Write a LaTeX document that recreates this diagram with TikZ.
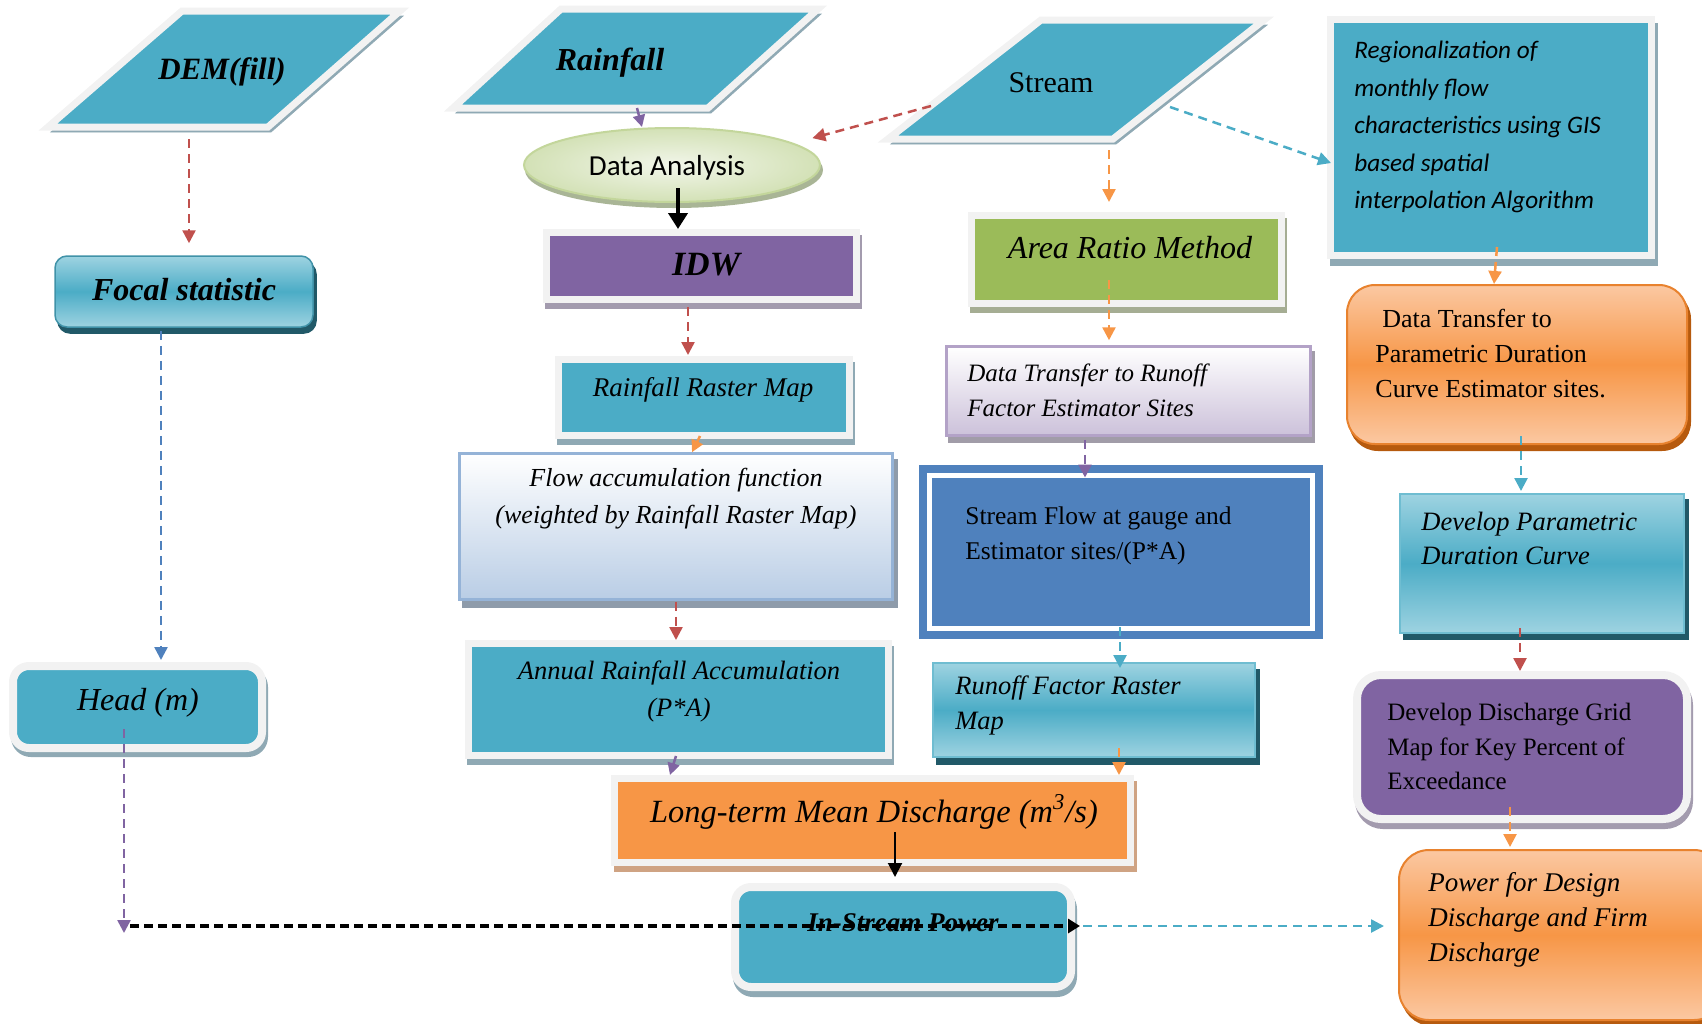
\documentclass[tikz,border=0pt]{standalone}
\usepackage{fontspec}
\setmainfont{Liberation Serif}
\newfontfamily\calfont{Carlito}
\usetikzlibrary{arrows.meta,shapes.geometric}
\newlength\pxu
\setlength\pxu{0.5pt}
\newcommand\fsz[2]{\fontsize{#1}{#2}\selectfont}
\definecolor{cTeal}{HTML}{4BACC6}
\definecolor{cTealL}{HTML}{9ED3E1}
\definecolor{cTealD}{HTML}{215968}
\definecolor{cFrame}{HTML}{F2F2F2}
\definecolor{cShTeal}{HTML}{8FA9B4}
\definecolor{cPurple}{HTML}{8064A2}
\definecolor{cShPurple}{HTML}{A39BAE}
\definecolor{cGreen}{HTML}{9BBB59}
\definecolor{cShGreen}{HTML}{A5AD93}
\definecolor{cOrange}{HTML}{F79646}
\definecolor{cOrangeL}{HTML}{FBC8A2}
\definecolor{cOrangeB}{HTML}{E8822E}
\definecolor{cOrangeD}{HTML}{B65A0E}
\definecolor{cShTan}{HTML}{CFA383}
\definecolor{cBlue}{HTML}{4F81BD}
\definecolor{cRed}{HTML}{C0504D}
\definecolor{cFlowB}{HTML}{B9CDE5}
\definecolor{cFlowBorder}{HTML}{95B3D7}
\definecolor{cLav}{HTML}{CCC1DA}
\definecolor{cLavBorder}{HTML}{B3A2C7}
\definecolor{cShGray}{HTML}{A19CA8}
\definecolor{cShFlow}{HTML}{8E9BAA}
\definecolor{cDAin}{HTML}{F2F6EA}
\definecolor{cDAout}{HTML}{D3E1B6}
\definecolor{cDAborder}{HTML}{C3D69B}
\definecolor{cShDA}{HTML}{A9B596}
\tikzset{
  frm/.style={draw=cFrame, line width=7\pxu, inner sep=0pt},
  bsh/.style n args={3}{preaction={draw=#1, fill=#1, transform canvas={xshift=#2\pxu, yshift=-#3\pxu}}},
  tx/.style={inner sep=0pt},
  tgrad/.style={top color=cTealL, bottom color=cTealL, middle color=cTeal},
  ograd/.style={top color=cOrangeL, bottom color=cOrangeL, middle color=cOrange},
  cn/.style={draw=#1, line width=2.5\pxu, dash pattern=on 4.5pt off 3pt, -{Triangle[length=6.5pt,width=6.5pt]}},
  cs/.style={draw=#1, line width=2.5\pxu, -{Triangle[length=6pt,width=6pt]}},
}
\begin{document}
\begin{tikzpicture}[x=0.5pt, y=-0.5pt]
\useasboundingbox (0,0) rectangle (1702,1023);

% ---------- parallelograms ----------
\draw[frm, fill=cTeal, bsh={cShTeal}{3}{5}] (182,11) -- (400,11) -- (268,127) -- (48,127) -- cycle;
\draw[frm, fill=cTeal, bsh={cShTeal}{3}{5}] (561,9) -- (818,9) -- (708,108) -- (453,108) -- cycle;
\draw[frm, fill=cTeal, bsh={cShTeal}{3}{5}] (1041,20) -- (1264,20) -- (1113,139) -- (888,139) -- cycle;
\coordinate (demB) at (189,139);
\coordinate (rainB) at (637,108);
\coordinate (streamL) at (931,106);
\coordinate (streamB) at (1109,150);
\coordinate (streamR) at (1170,107);
\coordinate (junc) at (130,926);

% ---------- boxes ----------
\node[ellipse, draw=cDAborder, line width=2\pxu, inner color=cDAin, outer color=cDAout, bsh={cShDA}{2}{5}, minimum width=296\pxu, minimum height=74\pxu, inner sep=0pt] (da) at (672,165) {};
\node[frm, fill=cPurple, bsh={cShPurple}{2}{6}, minimum width=310\pxu, minimum height=67\pxu] (idw) at (701.5,266) {};
\node[frm, fill=cTeal, bsh={cShTeal}{2}{6}, minimum width=291\pxu, minimum height=76\pxu] (rrm) at (704,397.5) {};
\node[frm, fill=cGreen, bsh={cShGreen}{2}{6}, minimum width=310\pxu, minimum height=88\pxu] (area) at (1126.5,259.5) {};
\node[frm, fill=cTeal, bsh={cShTeal}{3}{7}, minimum width=321\pxu, minimum height=236\pxu] (regional) at (1491,137.5) {};
\node[frm, fill=cTeal, bsh={cShTeal}{2}{6}, minimum width=420\pxu, minimum height=112\pxu] (annual) at (678.5,699.5) {};
\node[frm, fill=cOrange, bsh={cShTan}{3}{6}, minimum width=516\pxu, minimum height=84\pxu] (longterm) at (872.5,820.5) {};
\node[draw=cTeal!85!black, line width=1.5\pxu, tgrad, rounded corners=12\pxu, bsh={cTealD}{3}{6}, minimum width=258\pxu, minimum height=71\pxu, inner sep=0pt] (focal) at (184,291.5) {};
\node[frm, line width=8\pxu, fill=cTeal, rounded corners=16\pxu, bsh={cShTeal}{2}{5}, minimum width=249\pxu, minimum height=82\pxu] (head) at (137.5,707) {};
\node[frm, line width=8\pxu, fill=cTeal, rounded corners=16\pxu, bsh={cShTeal}{2}{6}, minimum width=336\pxu, minimum height=100\pxu] (instream) at (903,937) {};
\node[frm, line width=8\pxu, fill=cPurple, rounded corners=24\pxu, bsh={cShPurple}{2}{6}, minimum width=330\pxu, minimum height=144\pxu] (devdisch) at (1522,747) {};
\node[draw=cOrangeB, line width=2\pxu, ograd, rounded corners=28\pxu, bsh={cOrangeD}{3}{6}, minimum width=340\pxu, minimum height=159\pxu, inner sep=0pt] (dtparam) at (1517,364.5) {};
\begin{scope}
\clip (0,0) rectangle (1702,1023);
\node[draw=cOrangeB, line width=2\pxu, ograd, rounded corners=30\pxu, bsh={cOrangeD}{3}{5}, minimum width=325\pxu, minimum height=170\pxu, inner sep=0pt] (power) at (1561.5,935) {};
\end{scope}
\node[draw=cFlowBorder, line width=2.5\pxu, top color=white, bottom color=cFlowB, bsh={cShFlow}{4}{7}, minimum width=433\pxu, minimum height=146\pxu, inner sep=0pt] (flow) at (676,526.5) {};
\node[draw=cLavBorder, line width=2.5\pxu, top color=white, bottom color=cLav, bsh={cShGray}{3}{6}, minimum width=364\pxu, minimum height=89\pxu, inner sep=0pt] (dtrunoff) at (1128.5,391) {};
\node[draw=cBlue, double=white, double distance=5\pxu, line width=8\pxu, fill=cBlue, minimum width=383\pxu, minimum height=153\pxu, inner sep=0pt] (streamflow) at (1121,552) {};
\node[draw=cTeal!80!white, line width=2\pxu, tgrad, bsh={cTealD}{4}{7}, minimum width=322\pxu, minimum height=94\pxu, inner sep=0pt] (runoff) at (1094,710) {};
\node[draw=cTeal!80!white, line width=2\pxu, tgrad, bsh={cTealD}{4}{6}, minimum width=284\pxu, minimum height=139\pxu, inner sep=0pt] (devparam) at (1542,563.5) {};

% ---------- texts ----------
\node[tx, font=\fsz{15.5pt}{18pt}\bfseries\itshape] (demT) at (222,72) {DEM(fill)};
\node[tx, font=\fsz{16pt}{18pt}\bfseries\itshape] (rainT) at (610,63) {Rainfall};
\node[tx, font=\fsz{15pt}{18pt}] (streamT) at (1051,83) {Stream};
\node[tx, font=\calfont\fsz{14.5pt}{18pt}] (daT) at (667,168) {Data Analysis};
\node[tx, font=\fsz{17pt}{18pt}\bfseries\itshape] (idwT) at (706,265) {IDW};
\node[tx, font=\fsz{16pt}{18pt}\bfseries\itshape] (focalT) at (184,290) {Focal statistic};
\node[tx, font=\fsz{16pt}{18pt}\itshape] (areaT) at (1130,248) {Area Ratio Method};
\node[tx, anchor=west, align=left, font=\calfont\itshape\fsz{12.6pt}{18.75pt}] (regT) at (1354,127) {Regionalization of\\monthly flow\\characteristics using GIS\\based spatial\\interpolation Algorithm};
\node[tx, anchor=west, align=left, font=\fsz{13pt}{17.5pt}] (dtpT) at (1375,354) {\hspace*{3.5pt}Data Transfer to\\Parametric Duration\\Curve Estimator sites.};
\node[tx, font=\fsz{13.5pt}{18pt}\itshape] (rrmT) at (703,390) {Rainfall Raster Map};
\node[tx, align=center, font=\fsz{13pt}{18.5pt}\itshape] (flowT) at (676,498.5) {Flow accumulation function\\(weighted by Rainfall Raster Map)};
\node[tx, anchor=west, align=left, font=\fsz{12.5pt}{17.5pt}\itshape] (dtrT) at (967,390.5) {Data Transfer to Runoff\\Factor Estimator Sites};
\node[tx, anchor=west, align=left, font=\fsz{12.75pt}{17.5pt}] (sfT) at (965,535.5) {Stream Flow at gauge and\\Estimator sites/(P*A)};
\node[tx, align=center, font=\fsz{13.25pt}{18.5pt}\itshape] (annT) at (679,691.5) {Annual Rainfall Accumulation\\(P*A)};
\node[tx, anchor=west, align=left, font=\fsz{13.25pt}{17.5pt}\itshape] (rofT) at (955,705.5) {Runoff Factor Raster\\Map};
\node[tx, font=\fsz{16pt}{18pt}\itshape] (headT) at (138,703) {Head (m)};
\node[tx, font=\fsz{16.2pt}{20pt}\itshape] (ltT) at (874,812) {Long-term Mean Discharge (m\textsuperscript{3}/s)};
\node[tx, font=\fsz{13.5pt}{16pt}\bfseries\itshape] (isT) at (903,923) {In-Stream Power};
\node[tx, anchor=west, align=left, font=\fsz{13.25pt}{17pt}\itshape] (dpT) at (1421,538) {Develop Parametric\\Duration Curve};
\node[tx, anchor=west, align=left, font=\fsz{12.5pt}{17.25pt}] (ddT) at (1387,746.5) {Develop Discharge Grid\\Map for Key Percent of\\Exceedance};
\node[tx, anchor=west, align=left, font=\fsz{13.5pt}{17.5pt}\itshape] (pwT) at (1428,920) {Power for Design\\Discharge and Firm\\Discharge};

% ---------- connectors ----------
\draw[cn=cRed, shorten >=12\pxu] (demB) -- (demB |- focal.north);
\draw[cn=cBlue, shorten <=3\pxu, shorten >=2\pxu] ([xshift=-23\pxu]focal.south) -- ([xshift=23.5\pxu]head.north);
\draw[cn=cPurple] ([xshift=-13.5\pxu,yshift=-22\pxu]head.center) -- ([xshift=-6\pxu,yshift=-7\pxu]junc);
\coordinate (jend) at (junc -| instream.east);
\draw[draw=black, line width=3.5\pxu, dash pattern=on 4.5pt off 2.5pt, -{Triangle[length=6pt,width=7pt]}] (junc) -- ([xshift=5\pxu]jend);
\draw[cn=cTeal, shorten >=14\pxu] ([xshift=8\pxu]jend) -- (jend -| power.west);
\draw[cs=cPurple] (rainB) -- ([xshift=-30\pxu]da.north);
\draw[cn=cRed] (streamL) -- ([xshift=35\pxu]da.north east);
\draw[draw=black, line width=4\pxu, -{Triangle[length=8pt,width=9.5pt]}] ([xshift=6\pxu,yshift=-23\pxu]da.center) -- ([xshift=-23.5\pxu]idw.north);
\draw[cn=cRed, shorten <=4\pxu, shorten >=1\pxu] ([xshift=-13.5\pxu]idw.south) -- ([xshift=-16\pxu]rrm.north);
\draw[cs=cOrange] ([xshift=-4\pxu,yshift=3\pxu]rrm.south) -- ([xshift=16\pxu]flow.north);
\draw[cn=cRed, shorten <=1\pxu] (flow.south) -- ([xshift=-2.5\pxu]annual.north);
\draw[cs=cPurple] ([xshift=-2.5\pxu,yshift=3\pxu]annual.south) -- ([xshift=-202.5\pxu]longterm.north);
\draw[cn=cOrange] ([xshift=25\pxu,yshift=-38\pxu]runoff.center) -- ([xshift=246.5\pxu]longterm.north);
\draw[draw=black, line width=2\pxu, shorten >=6\pxu, -{Triangle[length=7pt,width=7pt]}] ([xshift=22.5\pxu,yshift=-11.5\pxu]longterm.center) -- ([xshift=-8\pxu]instream.north);
\draw[cn=cOrange, shorten >=10\pxu] (streamB) -- (streamB |- area.north);
\draw[cn=cOrange, shorten >=5\pxu] ([xshift=-17.5\pxu,yshift=-20.5\pxu]area.center) -- ([xshift=-19.5\pxu]dtrunoff.north);
\draw[cn=cPurple, shorten <=3\pxu] ([xshift=-43.5\pxu]dtrunoff.south) -- ([xshift=-36\pxu,yshift=-6\pxu]streamflow.north);
\draw[cn=cTeal] ([xshift=-1\pxu,yshift=5.5\pxu]streamflow.south) -- ([xshift=26\pxu,yshift=-6\pxu]runoff.north);
\draw[cn=cTeal] (streamR) -- ([xshift=4\pxu,yshift=-25.5\pxu]regional.west);
\draw[cn=cOrange] ([xshift=6\pxu,yshift=12\pxu]regional.south) -- ([xshift=-23\pxu]dtparam.north);
\draw[cn=cTeal, shorten >=2\pxu] ([xshift=4\pxu,yshift=9\pxu]dtparam.south) -- ([xshift=-21\pxu]devparam.north);
\draw[cn=cRed] ([xshift=-22\pxu,yshift=6\pxu]devparam.south) -- ([xshift=-2\pxu]devdisch.north);
\draw[cn=cOrange, shorten >=2\pxu] ([xshift=-12\pxu,yshift=16\pxu]devdisch.south) -- ([xshift=-51.5\pxu]power.north);
\end{tikzpicture}
\end{document}
